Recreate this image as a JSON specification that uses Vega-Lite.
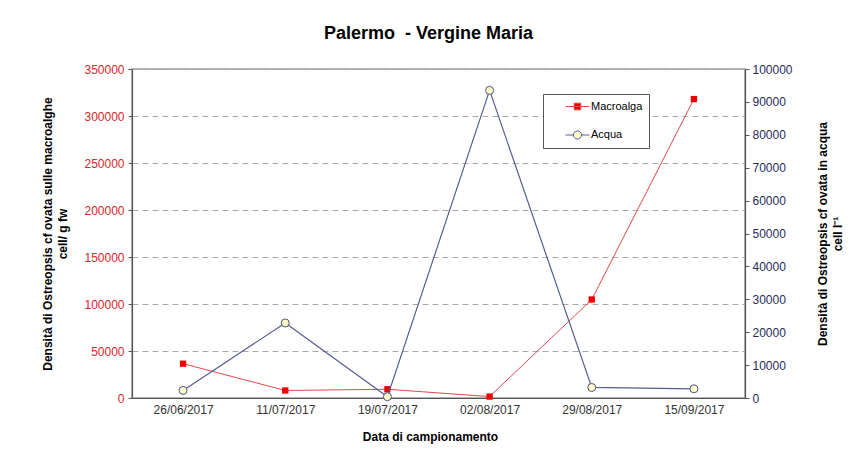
{
  "$schema": "https://vega.github.io/schema/vega-lite/v6.json",
  "width": 613,
  "height": 329,
  "autosize": {"type": "none"},
  "padding": {"left": 132, "top": 69, "right": 116, "bottom": 70},
  "background": "white",
  "title": {
    "text": "Palermo\u00a0 - Vergine Maria",
    "font": "Liberation Sans",
    "fontSize": 18,
    "fontWeight": "bold",
    "color": "#000000",
    "offset": 20,
    "dx": -10,
    "anchor": "middle"
  },
  "config": {
    "view": {"stroke": "#9a9a9a", "strokeWidth": 1.5},
    "font": "Liberation Sans"
  },
  "data": {
    "values": [
      {"date": "26/06/2017", "macro": 36500, "acqua": 2300},
      {"date": "11/07/2017", "macro": 8000, "acqua": 22800},
      {"date": "19/07/2017", "macro": 9300, "acqua": 400},
      {"date": "02/08/2017", "macro": 1500, "acqua": 93500},
      {"date": "29/08/2017", "macro": 104800, "acqua": 3200},
      {"date": "15/09/2017", "macro": 318000, "acqua": 2800}
    ]
  },
  "encoding": {
    "x": {
      "field": "date",
      "type": "ordinal",
      "sort": null,
      "scale": {"type": "point", "padding": 0.5},
      "axis": {
        "title": "Data di campionamento",
        "labelAngle": 0,
        "ticks": false,
        "tickSize": 0,
        "domainColor": "#555555",
        "domainWidth": 1.2,
        "labelFont": "Liberation Sans",
        "labelFontSize": 12,
        "labelColor": "#333333",
        "labelPadding": 6,
        "titleFont": "Liberation Sans",
        "titleFontSize": 12,
        "titleFontWeight": "bold",
        "titleColor": "#000000",
        "titlePadding": 16,
        "titleX": 298,
        "grid": false
      }
    }
  },
  "layer": [
    {
      "encoding": {
        "y": {
          "field": "macro",
          "type": "quantitative",
          "scale": {"domain": [0, 350000], "nice": false},
          "axis": {
            "orient": "left",
            "values": [0, 50000, 100000, 150000, 200000, 250000, 300000, 350000],
            "format": "d",
            "grid": true,
            "gridColor": "#a8a8a8",
            "gridDash": [6, 4],
            "gridWidth": 1,
            "domainColor": "#555555",
            "domainWidth": 1.2,
            "tickColor": "#555555",
            "tickSize": 4,
            "labelPadding": 4,
            "labelColor": "#d9262c",
            "labelFont": "Liberation Sans",
            "labelFontSize": 12,
            "title": ["Densità di Ostreopsis cf ovata sulle macroalghe", "cell/ g fw"],
            "titleFont": "Liberation Sans",
            "titleFontSize": 12,
            "titleFontWeight": "bold",
            "titleColor": "#000000",
            "titleLineHeight": 15,
            "titlePadding": 14
          }
        }
      },
      "layer": [
        {"mark": {"type": "line", "color": "#e0474c", "strokeWidth": 1}},
        {"mark": {"type": "point", "shape": "square", "filled": true, "color": "#ee0000", "size": 40, "opacity": 1}}
      ]
    },
    {
      "encoding": {
        "y": {
          "field": "acqua",
          "type": "quantitative",
          "scale": {"domain": [0, 100000], "nice": false},
          "axis": {
            "orient": "right",
            "values": [0, 10000, 20000, 30000, 40000, 50000, 60000, 70000, 80000, 90000, 100000],
            "format": "d",
            "grid": false,
            "domainColor": "#555555",
            "domainWidth": 1.2,
            "tickColor": "#555555",
            "tickSize": 4,
            "labelPadding": 3,
            "labelColor": "#1f2b5b",
            "labelFont": "Liberation Sans",
            "labelFontSize": 12,
            "title": ["Densità di Ostreopsis cf ovata in acqua", "cell l\u207b\u00b9"],
            "titleAngle": -90,
            "titleBaseline": "top",
            "titleFont": "Liberation Sans",
            "titleFontSize": 12,
            "titleFontWeight": "bold",
            "titleColor": "#000000",
            "titleLineHeight": 15,
            "titlePadding": 10
          }
        }
      },
      "layer": [
        {"mark": {"type": "line", "color": "#585c94", "strokeWidth": 1.2}},
        {"mark": {"type": "point", "shape": "circle", "filled": true, "fill": "#ffffcc", "stroke": "#4c5080", "strokeWidth": 1, "size": 64, "opacity": 1}}
      ]
    },
    {
      "transform": [{"filter": "false"}],
      "mark": {"type": "point", "filled": true, "opacity": 1, "strokeWidth": 1},
      "encoding": {
        "shape": {
          "field": "series",
          "type": "nominal",
          "scale": {
            "domain": ["Macroalga", "Acqua"],
            "range": [
              "M-2,0H2M-0.55,-0.55H0.55V0.55H-0.55Z",
              "M-2,0H-0.67M0.67,0H2M-0.67,0A0.67,0.67 0 1,1 0.67,0A0.67,0.67 0 1,1 -0.67,0Z"
            ]
          },
          "legend": {
            "title": null,
            "orient": "none",
            "legendX": 411,
            "legendY": 25,
            "strokeColor": "#555555",
            "fillColor": "white",
            "padding": 6,
            "symbolOffset": 22,
            "labelOffset": 7,
            "rowPadding": 16.5,
            "labelFont": "Liberation Sans",
            "labelFontSize": 11,
            "labelColor": "#000000",
            "symbolSize": 144,
            "symbolStrokeWidth": 1,
            "labelExpr": "datum.label + '\u00a0\u00a0\u00a0\u00a0\u00a0\u00a0\u00a0\u00a0\u00a0\u00a0'"
          }
        },
        "fill": {
          "field": "series",
          "type": "nominal",
          "scale": {"domain": ["Macroalga", "Acqua"], "range": ["#ee0000", "#ffffcc"]}
        },
        "stroke": {
          "field": "series",
          "type": "nominal",
          "scale": {"domain": ["Macroalga", "Acqua"], "range": ["#e0474c", "#585c94"]}
        }
      }
    }
  ],
  "resolve": {"scale": {"y": "independent"}}
}
